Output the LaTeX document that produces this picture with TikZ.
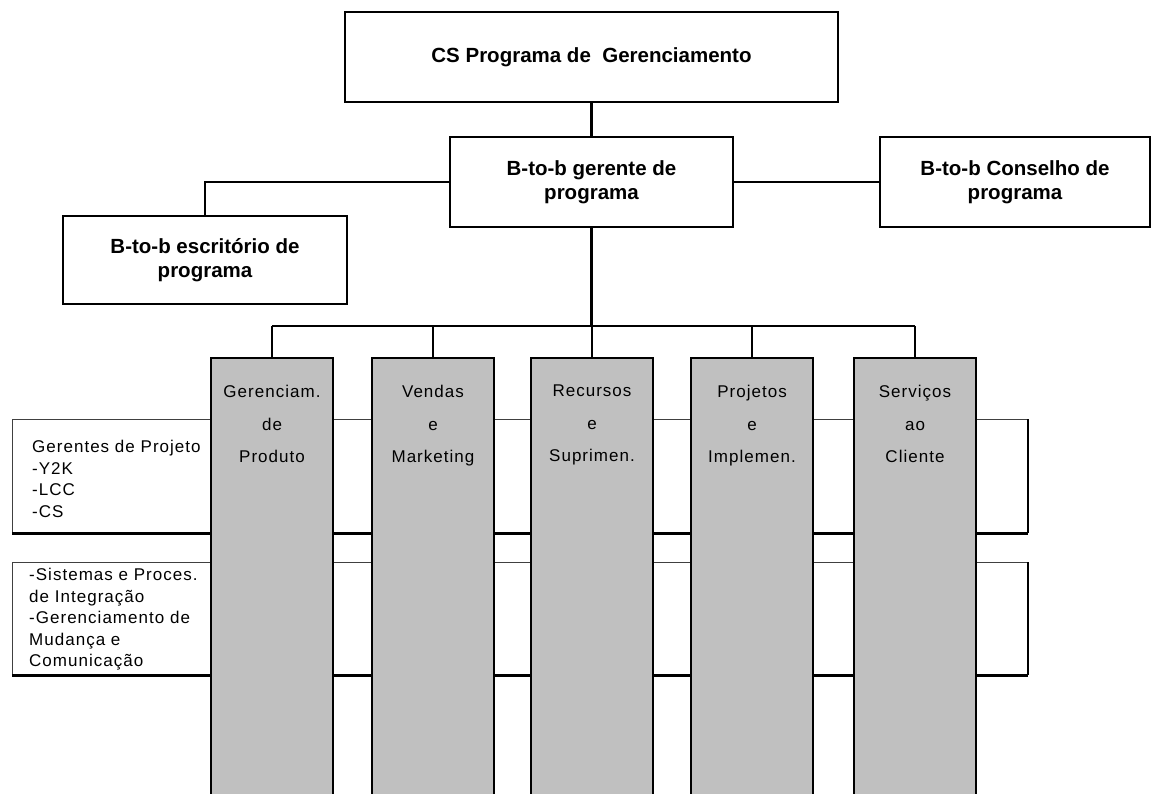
\documentclass[tikz,border=0pt]{standalone}
\usepackage{fontspec}
\setmainfont{Liberation Sans}
\newfontfamily\spaced[LetterSpace=6]{Liberation Sans}
\definecolor{colgray}{HTML}{C0C0C0}
\begin{document}
\begin{tikzpicture}[x=1pt,y=-1pt,
  box/.style={draw=black, fill=white, line width=2pt, inner sep=0pt, align=center,
    font=\bfseries\fontsize{20.5}{24}\selectfont},
  link/.style={draw=black, line width=2.4pt},
  colbox/.style={fill=colgray, draw=none, inner sep=0pt, anchor=north,
    minimum width=121pt, minimum height=460pt},
  coledge/.style={draw=black, line width=2.2pt},
  coltext/.style={anchor=north, inner sep=0pt, align=center,
    font=\spaced\fontsize{17}{32.5}\selectfont},
  rowbox/.style={draw=black!75, fill=white, line width=1.2pt, inner sep=0pt,
    anchor=north west, minimum width=1015pt},
  rowtext/.style={anchor=north west, inner sep=0pt, align=left,
    font=\spaced\fontsize{17}{21.5}\selectfont},
]
\useasboundingbox (0,0) rectangle (1151,793);
\clip (0,0) rectangle (1151,793);
\fill[white] (0,0) rectangle (1151,793);

% management boxes
\node[box, minimum width=493pt, minimum height=90pt] (top) at (591.5,57)
  {CS Programa de\ \ Gerenciamento};
\node[box, minimum width=283pt, minimum height=90pt] (mid) at (591.5,182)
  {B-to-b gerente de\\programa};
\node[box, minimum width=270pt, minimum height=90pt] (council) at (1015,182)
  {B-to-b Conselho de\\programa};
\node[box, minimum width=284pt, minimum height=88pt] (office) at (205,260)
  {B-to-b escritório de\\programa};

\draw[link] (mid.north) -- (mid.north |- top.south);
\draw[link] (mid.west) -| (office.north);
\draw[link] (mid.east) -- (council.west);

% horizontal cross-functional rows
\node[rowbox, minimum height=113pt] (row1) at (12,419) {};
\node[rowbox, minimum height=112pt] (row2) at (12,562) {};
\draw[line width=2.6pt] (row1.south west) -- (row1.south east);
\draw[line width=2.6pt] (row2.south west) -- (row2.south east);
\draw[line width=2pt] (row1.north east) -- (row1.south east);
\draw[line width=2pt] (row2.north east) -- (row2.south east);

\node[rowtext] (r1t) at (32,440)
  {Gerentes de Projeto\\-Y2K\\-LCC\\-CS};
\node[rowtext] (r2t) at (29,568)
  {-Sistemas e Proces.\\de Integração\\-Gerenciamento de\\Mudança e\\Comunicação};

% functional columns
\foreach \i/\x/\txt in {
  1/272/{Gerenciam.\\de\\Produto},
  2/433/{Vendas\\e\\Marketing},
  3/592/{Recursos\\e\\Suprimen.},
  4/752/{Projetos\\e\\Implemen.},
  5/915/{Serviços\\ao\\Cliente}} {
  \node[colbox] (c\i) at (\x,358) {};
  \draw[coledge] (c\i.south west) -- (c\i.north west) -- (c\i.north east) -- (c\i.south east);
  \node[coltext] (t\i) at (\x,385) {\txt};
}

% distribution bus
\coordinate (bus) at (0,326);
\draw[link] (mid.south) -- (mid.south |- bus);
\draw[link] (c1.north |- bus) -- (c5.north |- bus);
\foreach \i in {1,...,5} {
  \draw[link] (c\i.north |- bus) -- (c\i.north);
}
\end{tikzpicture}
\end{document}
